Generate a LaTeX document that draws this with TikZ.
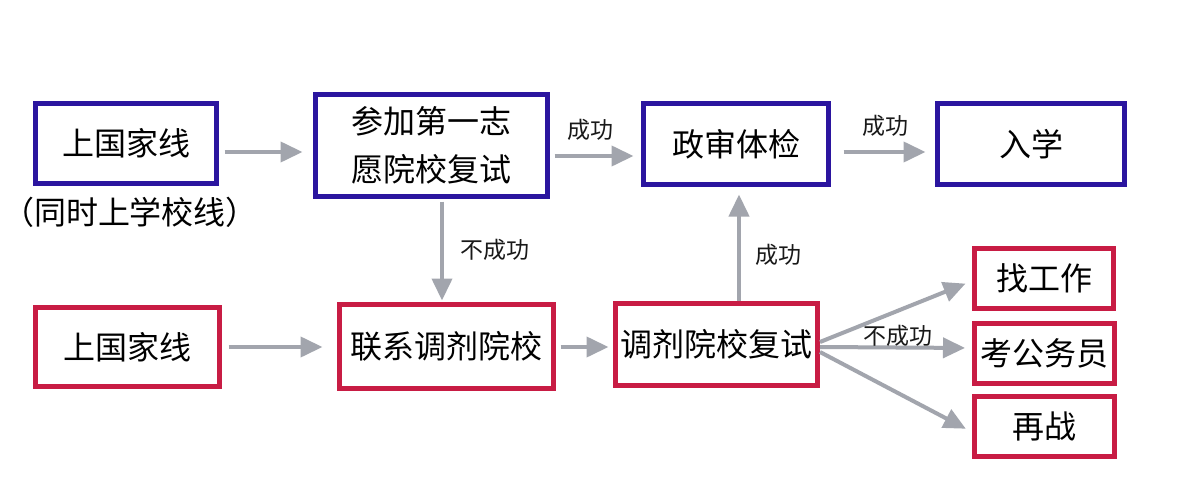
\documentclass[tikz,border=0pt]{standalone}
\usepackage{fontspec}
\setmainfont{Noto Sans CJK SC}
\usetikzlibrary{arrows.meta}
\definecolor{bblue}{HTML}{2B159F}
\definecolor{bred}{HTML}{C81C44}
\definecolor{agray}{HTML}{A2A5AD}
\begin{document}
\begin{tikzpicture}[x=1pt,y=-1pt,
 box/.style={draw, line width=5pt, fill=white, inner sep=0pt, font=\fontsize{32}{48}\selectfont, align=center},
 bluebox/.style={box, draw=bblue},
 redbox/.style={box, draw=bred},
 arr/.style={draw=agray, line width=4pt, -{Triangle[length=22pt,width=20pt]}},
 lbl/.style={font=\fontsize{23}{26}\selectfont, inner sep=0pt, text=black!90}]
\useasboundingbox[fill=white] (0,0) rectangle (1200,500);
% top row
\node[bluebox, minimum width=181pt, minimum height=80pt] (A) at (126,143.5) {上国家线};
\node[font=\fontsize{32}{36}\selectfont, inner sep=0pt] (Anote) at (130,212) {（同时上学校线）};
\node[bluebox, minimum width=232pt, minimum height=102pt] (B) at (431.5,145.5) {参加第一志\\愿院校复试};
\node[bluebox, minimum width=185pt, minimum height=81pt] (C) at (736,144) {政审体检};
\node[bluebox, minimum width=187pt, minimum height=81pt] (D) at (1031,144) {入学};
% bottom row
\node[redbox, minimum width=184pt, minimum height=79pt] (E) at (127.5,347) {上国家线};
\node[redbox, minimum width=214pt, minimum height=84pt] (F) at (446.5,346.5) {联系调剂院校};
\node[redbox, minimum width=202pt, minimum height=82pt] (G) at (716.5,344.5) {调剂院校复试};
\node[redbox, minimum width=139pt, minimum height=60pt] (H) at (1044,278.5) {找工作};
\node[redbox, minimum width=140pt, minimum height=60pt] (I) at (1044.5,353.5) {考公务员};
\node[redbox, minimum width=140pt, minimum height=60pt] (J) at (1044.5,426.5) {再战};
% arrows
\draw[arr, shorten <=5.5pt, shorten >=10.5pt] (A.east |- 0,152) -- (B.west |- 0,152);
\draw[arr, shorten <=4.5pt, shorten >=7.5pt] (B.east |- 0,156) -- (C.west |- 0,156);
\draw[arr, shorten <=12.5pt, shorten >=9.5pt] (C.east |- 0,152) -- (D.west |- 0,152);
\draw[arr, shorten <=2.5pt, shorten >=1.5pt] (B.south -| 442,0) -- (F.north -| 442,0);
\draw[arr, shorten >=7.5pt] (G.north -| 739,0) -- (C.south -| 739,0);
\draw[arr, shorten <=6.5pt, shorten >=14.5pt] (E.east |- 0,347) -- (F.west |- 0,347);
\draw[arr, shorten <=4.5pt, shorten >=4.5pt] (F.east |- 0,347) -- (G.west |- 0,347);
\draw[arr, shorten >=7pt] (G.east |- 0,342) -- (H.west |- 0,281);
\draw[arr, shorten >=7pt] (G.east |- 0,347) -- (I.west |- 0,348);
\draw[arr, shorten >=7pt] (G.east |- 0,352) -- (J.west |- 0,432);
% labels
\node[lbl] (l1) at (590,130) {成功};
\node[lbl] (l2) at (885,126) {成功};
\node[lbl] (l3) at (495,250) {不成功};
\node[lbl] (l4) at (778,255) {成功};
\node[lbl] (l5) at (898,336) {不成功};
\end{tikzpicture}
\end{document}
